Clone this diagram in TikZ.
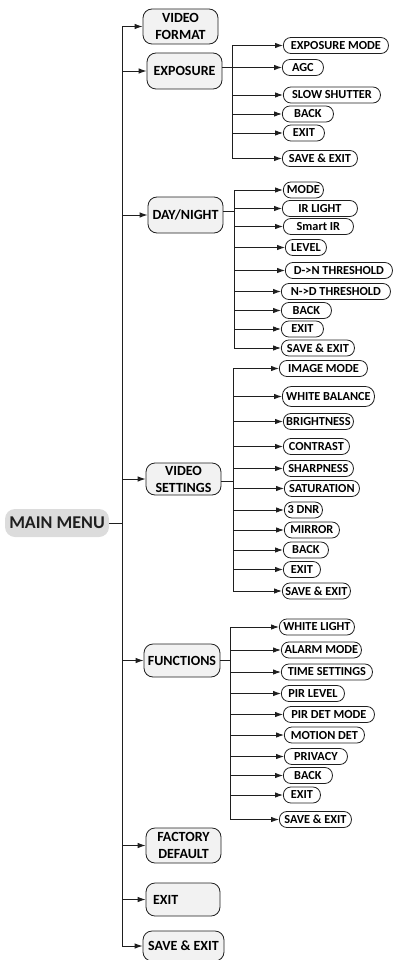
\documentclass[tikz,border=0pt]{standalone}
\usepackage{fontspec}
\setmainfont{Carlito}
\usepackage{tikz}
\usetikzlibrary{arrows.meta}
\definecolor{linegray}{HTML}{1F1F1F}
\definecolor{boxfill}{HTML}{F2F2F2}
\definecolor{rootfill}{HTML}{DCDCDC}
\tikzstyle{arrow} = [draw=linegray, line width=0.9pt, -{Latex[length=8pt,width=5.5pt]}]
\tikzstyle{wire} = [draw=linegray, line width=0.9pt]
\tikzstyle{rootnode} = [rectangle, rounded corners=10pt, minimum width=104pt, minimum
height=28pt, inner sep=0pt, fill=rootfill, text=linegray, font=\fontsize{18}{20}\selectfont\bfseries]
\tikzstyle{menunode} = [rectangle, rounded corners=9pt, minimum width=75pt, minimum
height=35pt, inner sep=2pt, align=center, draw=linegray, line width=0.8pt, fill=boxfill,
font=\fontsize{14}{17}\selectfont\bfseries]
\tikzstyle{subnode} = [rectangle, rounded corners=7.5pt, minimum height=16pt, inner sep=0pt,
anchor=west, draw=linegray, line width=0.8pt, font=\fontsize{12.3}{13}\selectfont\bfseries]

\begin{document}
\begin{tikzpicture}[x=1pt, y=-1pt]
      \useasboundingbox (0,0) rectangle (393,960);

      \node (main) [rootnode] at (57,523) {MAIN MENU};
      \coordinate (mm) at (122,523);

      \node (vf) [menunode] at (180.5,26.5) {VIDEO\\FORMAT};
      \node (exp) [menunode, minimum height=36pt] at (184.5,71) {EXPOSURE};
      \node (dn) [menunode, minimum height=36pt] at (185.5,215) {DAY/NIGHT};
      \node (vs) [menunode, minimum height=32pt] at (183.5,479) {VIDEO\\SETTINGS};
      \node (fn) [menunode, minimum width=76pt, minimum height=33pt] at (182,660.5) {FUNCTIONS};
      \node (fd) [menunode] at (183.5,845.5) {FACTORY\\DEFAULT};
      \node (ext) [menunode, minimum width=74pt, minimum height=33pt, text width=60pt, align=left] at (183,899.5) {EXIT};
      \node (se) [menunode, minimum width=81pt, minimum height=30pt] at (183.5,946) {SAVE \& EXIT};

      % exposure
      \node (e1) [subnode, minimum width=105pt] at (283,45.5) {EXPOSURE MODE};
      \node (e2) [subnode, minimum width=41pt] at (282,67.5) {AGC};
      \node (e3) [subnode, minimum width=97pt] at (283,95) {SLOW SHUTTER};
      \node (e4) [subnode, minimum width=51pt] at (282,114) {BACK};
      \node (e5) [subnode, minimum width=41pt] at (283,133) {EXIT};
      \node (e6) [subnode, minimum width=75pt] at (282,158.5) {SAVE \& EXIT};
      \coordinate (eb) at (232,67);

      % day/night
      \node (d1) [subnode, minimum width=40pt] at (283,190) {MODE};
      \node (d2) [subnode, minimum width=75pt] at (282,208.5) {IR LIGHT};
      \node (d3) [subnode, minimum width=70pt] at (283,226.5) {Smart IR};
      \node (d4) [subnode, minimum width=41pt] at (285,247.5) {LEVEL};
      \node (d5) [subnode, minimum width=107pt] at (285,270.5) {D->N THRESHOLD};
      \node (d6) [subnode, minimum width=109pt] at (281,291.5) {N->D THRESHOLD};
      \node (d7) [subnode, minimum width=50pt] at (281,310.5) {BACK};
      \node (d8) [subnode, minimum width=42pt] at (281,329) {EXIT};
      \node (d9) [subnode, minimum width=73pt] at (281,348) {SAVE \& EXIT};
      \coordinate (db) at (234,211);

      % video settings
      \node (v1) [subnode, minimum width=88pt] at (279,368.5) {IMAGE MODE};
      \node (v2) [subnode, minimum width=92pt, minimum height=20pt, rounded corners=9pt] at (282,396.5) {WHITE BALANCE};
      \node (v3) [subnode, minimum width=70pt] at (283,421.5) {BRIGHTNESS};
      \node (v4) [subnode, minimum width=66pt] at (283,446.5) {CONTRAST};
      \node (v5) [subnode, minimum width=70pt] at (283,468.5) {SHARPNESS};
      \node (v6) [subnode, minimum width=75pt] at (284,488.5) {SATURATION};
      \node (v7) [subnode, minimum width=38pt] at (284,510) {3 DNR};
      \node (v8) [subnode, minimum width=55pt] at (284,530) {MIRROR};
      \node (v9) [subnode, minimum width=45pt] at (283,550) {BACK};
      \node (v10) [subnode, minimum width=37pt] at (283,569.5) {EXIT};
      \node (v11) [subnode, minimum width=68pt] at (282,591) {SAVE \& EXIT};
      \coordinate (vb) at (233,481);

      % functions
      \node (f1) [subnode, minimum width=75pt] at (279,627) {WHITE LIGHT};
      \node (f2) [subnode, minimum width=80pt] at (281,650) {ALARM MODE};
      \node (f3) [subnode, minimum width=91pt] at (281,672) {TIME SETTINGS};
      \node (f4) [subnode, minimum width=63pt] at (281,693.5) {PIR LEVEL};
      \node (f5) [subnode, minimum width=91pt] at (283,714.5) {PIR DET MODE};
      \node (f6) [subnode, minimum width=80pt] at (284,735) {MOTION DET};
      \node (f7) [subnode, minimum width=63pt] at (284,756.5) {PRIVACY};
      \node (f8) [subnode, minimum width=49pt] at (283,775.5) {BACK};
      \node (f9) [subnode, minimum width=37pt] at (283,795) {EXIT};
      \node (f10) [subnode, minimum width=72pt] at (279,819.5) {SAVE \& EXIT};
      \coordinate (fb) at (230,660);

      \draw [wire] (main) -- (mm);
      \foreach \n in {vf,exp,dn,vs,fn,fd,ext,se}
        \draw [arrow] (mm) |- (\n);

      \draw [wire] (exp.east |- eb) -- (eb);
      \foreach \n in {e1,e2,e3,e4,e5,e6}
        \draw [arrow] (eb) |- (\n);

      \draw [wire] (dn.east |- db) -- (db);
      \foreach \n in {d1,d2,d3,d4,d5,d6,d7,d8,d9}
        \draw [arrow] (db) |- (\n);

      \draw [wire] (vs.east |- vb) -- (vb);
      \foreach \n in {v1,v2,v3,v4,v5,v6,v7,v8,v9,v10,v11}
        \draw [arrow] (vb) |- (\n);

      \draw [wire] (fn.east |- fb) -- (fb);
      \foreach \n in {f1,f2,f3,f4,f5,f6,f7,f8,f9,f10}
        \draw [arrow] (fb) |- (\n);
    \end{tikzpicture}
\end{document}
